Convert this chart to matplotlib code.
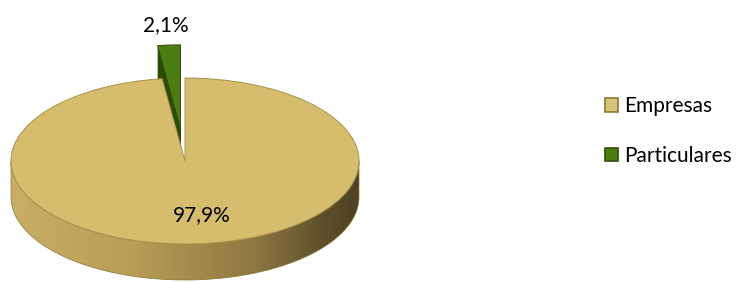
import numpy as np
import matplotlib.pyplot as plt
from matplotlib.colors import LinearSegmentedColormap
from matplotlib.patches import Patch, Polygon

labels = ["Empresas", "Particulares"]
values = [97.9, 2.1]
explode = [0, 0.40]

top_colors = ["#D6BD6E", "#4C7D12"]
side_green = "#2B4C08"
edge_colors = ["#A8924A", "#2F5208"]

plt.rcParams["font.family"] = ["Lato", "DejaVu Sans"]

fig = plt.figure(figsize=(7.38, 2.82), dpi=100)
ax = fig.add_axes([0, 0, 1, 1])

# pixel -> data mapping: pie centre at (185, 161) px, radius 174 px wide, 83 px tall
cx, cy, rx, ry = 185, 161, 174, 83
depth = 36 / ry

# extruded side of the exploded green slice (stacked copies)
n = 30
for k in range(n, 0, -1):
    ax.pie(values, colors=["none", side_green], explode=explode, startangle=90,
           counterclock=False, center=(0, -depth * k / n),
           wedgeprops=dict(linewidth=0, zorder=1))

# top face of both slices
wedges, _ = ax.pie(values, colors=top_colors, explode=explode, startangle=90,
                   counterclock=False,
                   wedgeprops=dict(linewidth=0.7, zorder=4))
for w, ec in zip(wedges, edge_colors):
    w.set_edgecolor(ec)
wedges[1].set_zorder(2)

# side wall of the big slice with a horizontal shading gradient
t = np.linspace(np.pi, 2 * np.pi, 200)
xs = np.concatenate([np.cos(t), np.cos(t[::-1])])
ys = np.concatenate([np.sin(t), np.sin(t[::-1]) - depth])
wall = Polygon(np.column_stack([xs, ys]), closed=True, facecolor="none",
               edgecolor="#8A7534", linewidth=0.5, zorder=3.5)
ax.add_patch(wall)
cmap = LinearSegmentedColormap.from_list(
    "side", [(0, "#C9AE66"), (0.35, "#B99D57"), (0.7, "#8E7741"), (0.9, "#5E4F2A"), (1, "#4E4224")])
grad = np.linspace(0, 1, 256).reshape(1, -1)
img = ax.imshow(grad, cmap=cmap, extent=(-1, 1, -1 - depth, 0), aspect="auto", zorder=3)
img.set_clip_path(wall)

# percentage labels
def fmt(v):
    return f"{v:.1f}".replace(".", ",") + "%"

ax.text((166 - cx) / rx, (cy - 25) / ry, fmt(values[1]), ha="center", va="center",
        fontsize=15, color="#000000", zorder=6)
ax.text((202 - cx) / rx, (cy - 215) / ry, fmt(values[0]), ha="center", va="center",
        fontsize=15, color="#000000", zorder=6)

ax.set_aspect("auto")
ax.set_xlim(-cx / rx, (738 - cx) / rx)
ax.set_ylim(-(282 - cy) / ry, cy / ry)
ax.axis("off")

handles = [Patch(facecolor="#D9C27A", edgecolor="#8C7A2C", linewidth=1.2),
           Patch(facecolor=top_colors[1], edgecolor="#2F5208", linewidth=1.2)]
fig.legend(handles, labels, loc="center left", bbox_to_anchor=(597 / 738, 1 - 131 / 282),
           frameon=False, fontsize=15, handlelength=0.62, handleheight=0.62,
           handletextpad=0.3, labelspacing=1.4, borderaxespad=0)

fig.savefig("out.png", dpi=100)
